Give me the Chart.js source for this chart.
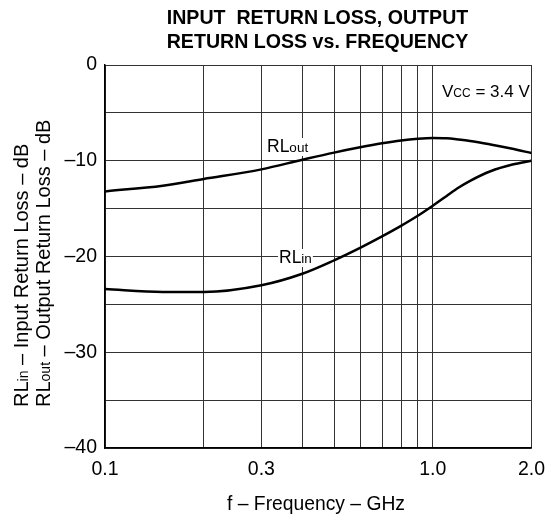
<!DOCTYPE html>
<html>
<head>
<meta charset="utf-8">
<script src="https://cdn.jsdelivr.net/npm/chart.js@4.4.1/dist/chart.umd.min.js"></script>
<style>
  body { margin: 0; background: #fff; }
  canvas { display: block; }
</style>
</head>
<body>
<canvas id="rlChart" width="555" height="516"></canvas>
<script>
// frequency points (GHz)
var freq = [0.1, 0.15, 0.2, 0.3, 0.4, 0.5, 0.6, 0.7, 0.8, 0.9, 1.0, 1.1, 1.2, 1.3, 1.5, 1.75, 2.0];
// output return loss (dB)
var rlOut = [-13.2, -12.6, -11.9, -10.9, -9.9, -9.15, -8.6, -8.18, -7.88, -7.7, -7.62, -7.65, -7.78, -7.93, -8.3, -8.75, -9.2];
// input return loss (dB)
var rlIn = [-23.4, -23.7, -23.7, -23.0, -21.8, -20.4, -19.1, -17.9, -16.8, -15.75, -14.7, -13.7, -12.8, -12.1, -11.1, -10.4, -10.0];

// x grid lines and which of them carry a label
var xGrid = [0.1, 0.2, 0.3, 0.4, 0.5, 0.6, 0.7, 0.8, 0.9, 1.0, 2.0];
var xTickLabels = ["0.1", "", "0.3", "", "", "", "", "", "", "1.0", "2.0"];
var yLabelled = [0, -10, -20, -30, -40];

var FONT = "'Liberation Sans', Arial, sans-serif";

function toPoints(ys) {
    var pts = [];
    for (var i = 0; i < freq.length; i++) {
        pts.push({ x: freq[i], y: ys[i] });
    }
    return pts;
}

// draw text made of pieces with different sizes, all on one baseline
function drawRich(ctx, parts, x, y) {
    var cx = x;
    for (var i = 0; i < parts.length; i++) {
        ctx.font = parts[i].size + "px " + FONT;
        ctx.fillText(parts[i].t, cx, y);
        cx += ctx.measureText(parts[i].t).width;
    }
    return cx - x;
}

function richWidth(ctx, parts) {
    var w = 0;
    for (var i = 0; i < parts.length; i++) {
        ctx.font = parts[i].size + "px " + FONT;
        w += ctx.measureText(parts[i].t).width;
    }
    return w;
}

// labels on the plot that sit on a white patch
function drawTag(ctx, parts, x, y) {
    var w = richWidth(ctx, parts);
    ctx.fillStyle = "#fff";
    ctx.fillRect(x - 1, y - 14, w + 2, 18);
    ctx.fillStyle = "#000";
    drawRich(ctx, parts, x, y);
}

var textPlugin = {
    id: "textPlugin",
    afterDraw: function(chart) {
        var ctx = chart.ctx;
        ctx.save();
        ctx.fillStyle = "#000";
        ctx.textBaseline = "alphabetic";

        // title
        ctx.textAlign = "center";
        ctx.font = "bold 19.6px " + FONT;
        ctx.fillText("INPUT  RETURN LOSS, OUTPUT", 317.5, 24);
        ctx.fillText("RETURN LOSS vs. FREQUENCY", 317.5, 48);

        // x axis title
        ctx.font = "19.3px " + FONT;
        ctx.fillText("f \u2013 Frequency \u2013 GHz", 316, 510);

        ctx.textAlign = "left";

        // curve labels
        drawTag(ctx, [{ t: "RL", size: 17.5 }, { t: "out", size: 13.5 }], 267, 152);
        drawTag(ctx, [{ t: "RL", size: 17.5 }, { t: "in", size: 13.5 }], 279, 263);

        // supply note
        drawRich(ctx, [{ t: "V", size: 17 }, { t: "CC", size: 12 }, { t: " = 3.4 V", size: 17 }], 442, 97);

        // y axis title, two rotated lines
        ctx.save();
        ctx.translate(28, 407);
        ctx.rotate(-Math.PI / 2);
        drawRich(ctx, [{ t: "RL", size: 20 }, { t: "in", size: 14 }, { t: " \u2013 Input Return Loss \u2013 dB", size: 20 }], 0, 0);
        ctx.restore();
        ctx.save();
        ctx.translate(50, 407);
        ctx.rotate(-Math.PI / 2);
        drawRich(ctx, [{ t: "RL", size: 20 }, { t: "out", size: 14 }, { t: " \u2013 Output Return Loss \u2013 dB", size: 20 }], 0, 0);
        ctx.restore();

        ctx.restore();
    }
};

var ctx = document.getElementById("rlChart").getContext("2d");
var rlChart = new Chart(ctx, {
    type: "line",
    data: {
        datasets: [{
            label: "RLout",
            data: toPoints(rlOut),
            borderColor: "#000",
            borderWidth: 2.5,
            pointRadius: 0,
            cubicInterpolationMode: "monotone",
            fill: false
        }, {
            label: "RLin",
            data: toPoints(rlIn),
            borderColor: "#000",
            borderWidth: 2.5,
            pointRadius: 0,
            cubicInterpolationMode: "monotone",
            fill: false
        }]
    },
    options: {
        responsive: false,
        animation: false,
        events: [],
        layout: { padding: { top: 65, right: 16, bottom: 0, left: 0 } },
        plugins: {
            legend: { display: false },
            title: { display: false },
            tooltip: { enabled: false }
        },
        scales: {
            x: {
                type: "logarithmic",
                min: 0.1,
                max: 2.0,
                afterBuildTicks: function(scale) {
                    scale.ticks = xGrid.map(function(v) { return { value: v }; });
                },
                afterFit: function(scale) { scale.height = 68; },
                ticks: {
                    autoSkip: false,
                    maxRotation: 0,
                    padding: 10,
                    color: "#000",
                    font: { family: FONT, size: 19.5 },
                    callback: function(value, index) {
                        return xTickLabels[index];
                    }
                },
                grid: { color: "#333", lineWidth: 1, drawTicks: false },
                border: { color: "#000", width: 1.5 }
            },
            y: {
                min: -40,
                max: 0,
                afterFit: function(scale) { scale.width = 105; },
                ticks: {
                    stepSize: 5,
                    padding: 8,
                    color: "#000",
                    font: { family: FONT, size: 19.5 },
                    callback: function(value) {
                        if (yLabelled.indexOf(value) < 0) return "";
                        return value < 0 ? "\u2013" + Math.abs(value) : "" + value;
                    }
                },
                grid: { color: "#333", lineWidth: 1, drawTicks: false },
                border: { color: "#000", width: 1.5 }
            }
        }
    },
    plugins: [textPlugin]
});
</script>
</body>
</html>
